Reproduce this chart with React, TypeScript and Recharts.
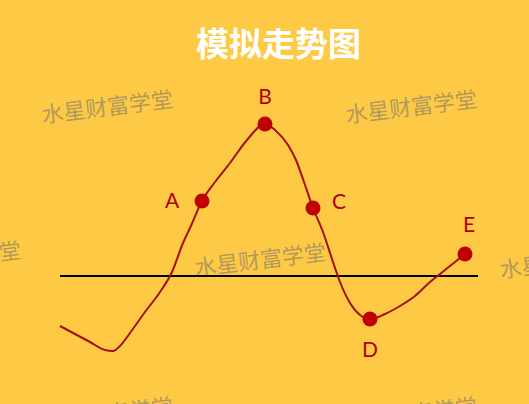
import React from "react";
import {
  ComposedChart,
  Line,
  Scatter,
  XAxis,
  YAxis,
  ReferenceLine,
} from "recharts";

// price path, x in steps, y relative to the black baseline
const pathX = [6.0, 7.5, 9.0, 10.5, 11.3, 12.0, 13.0, 14.5, 16.0, 17.2, 18.3, 19.0, 20.2, 21.5, 23.0, 24.7, 26.5, 27.5, 28.8, 29.6, 30.4, 31.3, 32.3, 33.3, 34.0, 35.0, 36.0, 37.0, 38.5, 40.0, 41.5, 43.0, 44.5, 46.5];
const pathY = [-5.0, -5.8, -6.6, -7.4, -7.5, -7.0, -5.7, -3.6, -1.6, 0.4, 3.3, 4.8, 7.5, 9.4, 11.3, 13.6, 15.2, 14.6, 13.1, 11.6, 9.4, 6.8, 4.4, 1.4, -0.6, -2.7, -3.9, -4.3, -3.8, -3.0, -2.0, -0.6, 0.6, 2.2];

const pointNames = ["A", "B", "C", "D", "E"];
const pointX = [20.2, 26.5, 31.3, 37.0, 46.5];
const pointY = [7.5, 15.2, 6.8, -4.3, 2.2];

const baseline = { y: 0, from: 6.0, to: 47.8 };

const watermark = "水星财富学堂";
const title = "模拟走势图";

const curve = pathX.map((x, i) => ({ x, y: pathY[i] }));
const points = pointNames.map((name, i) => ({ name, x: pointX[i], y: pointY[i] }));

// where each letter sits relative to its dot
const labelOffset: Record<string, [number, number]> = {
  A: [-30, -2],
  B: [0, -29],
  C: [26, -8],
  D: [0, 29],
  E: [4, -31],
};

const PointShape = (props: any) => {
  const { cx, cy, payload } = props;
  const [dx, dy] = labelOffset[payload.name] || [0, 0];
  return (
    <g>
      <circle cx={cx} cy={cy} r={7.5} fill="#C00000" />
      <text
        x={cx + dx}
        y={cy + dy}
        textAnchor="middle"
        dominantBaseline="central"
        fill="#B00000"
        fontSize={21}
        fontFamily="Lato, 'Open Sans', sans-serif"
      >
        {payload.name}
      </text>
    </g>
  );
};

const marks = [
  [107, 105], [411, 105],
  [-45, 256], [260, 258], [565, 260],
  [107, 412], [411, 412],
];

export default function App() {
  return (
    <div
      style={{
        position: "absolute",
        left: 0,
        top: 0,
        width: 529,
        height: 404,
        background: "#FECA46",
        overflow: "hidden",
      }}
    >
      {marks.map(([x, y], i) => (
        <div
          key={i}
          style={{
            position: "absolute",
            left: x - 85,
            top: y - 16,
            width: 170,
            height: 32,
            lineHeight: "32px",
            textAlign: "center",
            transform: "rotate(-7deg)",
            color: "rgba(110,110,110,0.55)",
            fontSize: 22,
            fontFamily: "'Noto Sans CJK SC', sans-serif",
            whiteSpace: "nowrap",
          }}
        >
          {watermark}
        </div>
      ))}
      <div
        style={{
          position: "absolute",
          left: 14,
          top: 20,
          width: 529,
          textAlign: "center",
          color: "#FFFFFF",
          fontSize: 33,
          fontWeight: 700,
          lineHeight: "44px",
          fontFamily: "'Noto Sans CJK SC', sans-serif",
        }}
      >
        {title}
      </div>
      <div style={{ position: "absolute", left: 0, top: 0 }}>
        <ComposedChart
          width={529}
          height={404}
          margin={{ top: 0, right: 0, bottom: 0, left: 0 }}
        >
          <XAxis type="number" dataKey="x" domain={[0, 52.9]} hide allowDataOverflow />
          <YAxis type="number" dataKey="y" domain={[-12.8, 27.6]} hide allowDataOverflow />
          <ReferenceLine
            segment={[
              { x: baseline.from, y: baseline.y },
              { x: baseline.to, y: baseline.y },
            ]}
            stroke="#000000"
            strokeWidth={2}
            ifOverflow="visible"
          />
          <Line
            data={curve}
            dataKey="y"
            type="monotone"
            stroke="#A31010"
            strokeWidth={2}
            dot={false}
            activeDot={false}
            isAnimationActive={false}
          />
          <Scatter
            data={points}
            dataKey="y"
            shape={<PointShape />}
            isAnimationActive={false}
          />
        </ComposedChart>
      </div>
    </div>
  );
}
